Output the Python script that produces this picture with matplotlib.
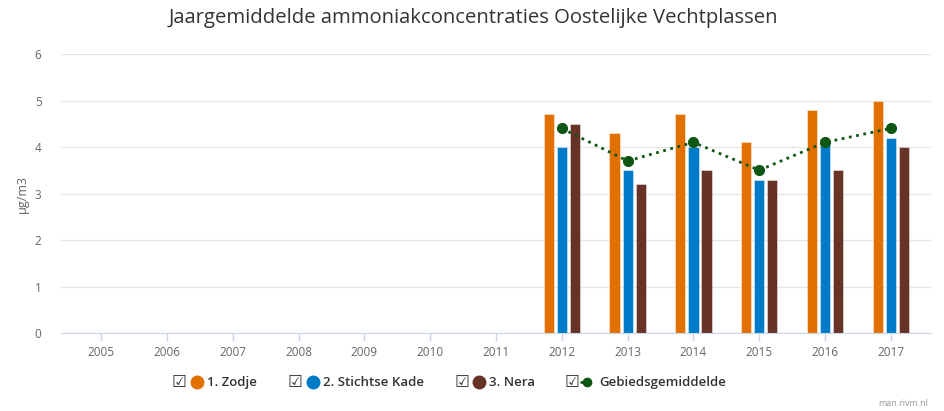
import matplotlib.pyplot as plt
import numpy as np

plt.rcParams["font.family"] = ["Open Sans", "DejaVu Sans"]

# Data
years = ["2005", "2006", "2007", "2008", "2009", "2010", "2011",
         "2012", "2013", "2014", "2015", "2016", "2017"]
zodje = [np.nan] * 7 + [4.7, 4.3, 4.7, 4.1, 4.8, 5.0]
stichtse_kade = [np.nan] * 7 + [4.0, 3.5, 4.0, 3.3, 4.1, 4.2]
nera = [np.nan] * 7 + [4.5, 3.2, 3.5, 3.3, 3.5, 4.0]
gebied = [np.nan] * 7 + [4.4, 3.7, 4.1, 3.5, 4.1, 4.4]

series_names = ["1. Zodje", "2. Stichtse Kade", "3. Nera", "Gebiedsgemiddelde"]
colors = ["#e17000", "#007bc7", "#673327", "#0d5613"]

W, H = 944, 411
fig = plt.figure(figsize=(W / 100, H / 100), dpi=100)
ax = fig.add_axes([61 / W, (H - 333) / H, 870 / W, 279 / H])

x = np.arange(len(years))
bw = 0.155
step = 0.2
for i, vals in enumerate([zodje, stichtse_kade, nera]):
    ax.bar(x + (i - 1) * step, vals, width=bw, color=colors[i],
           edgecolor=(1, 1, 1, 0.5), linewidth=0.6, zorder=2)

ax.plot(x, gebied, linestyle=":", linewidth=2, color=colors[3],
        marker="o", markersize=7, zorder=3)

# Axes styling
ax.set_xlim(-0.61, 12.61)
ax.set_ylim(0, 6)
ax.set_yticks(range(7))
ax.set_xticks(x)
ax.set_xticklabels(years)
ax.grid(axis="y", color="#e6e6e6", linewidth=1, zorder=0)
for side in ["top", "right", "left"]:
    ax.spines[side].set_visible(False)
ax.spines["bottom"].set_color("#ccd6eb")
ax.tick_params(axis="x", colors="#ccd6eb", length=6, width=1, labelcolor="#666666",
               labelsize=8.5, pad=3)
ax.tick_params(axis="y", length=0, labelcolor="#666666", labelsize=8.5, pad=14)
ax.set_ylabel("µg/m3", color="#666666", fontsize=9, labelpad=4)

fig.text(473 / W, 1 - 18 / H, "Jaargemiddelde ammoniakconcentraties Oostelijke Vechtplassen",
         ha="center", va="center", fontsize=14.6, color="#333333")

# Legend
ly = 1 - 382 / H
legend_items = [(179, 197, 207), (295, 313, 323), (462, 479, 489), (572, 587, 599)]
for i, (cx, mx, tx) in enumerate(legend_items):
    fig.text(cx / W, ly, "\u2611", ha="center", va="center", fontsize=12,
             color="#333333", family="DejaVu Sans")
    if i < 3:
        fig.lines.append(plt.Line2D([mx / W], [ly], marker="o", markersize=9,
                                    color=colors[i], transform=fig.transFigure))
    else:
        fig.lines.append(plt.Line2D([(mx - 7) / W, (mx + 7) / W], [ly, ly],
                                    linestyle=":", linewidth=2, color=colors[3],
                                    marker=None, transform=fig.transFigure))
        fig.lines.append(plt.Line2D([mx / W], [ly], marker="o", markersize=6,
                                    color=colors[3], transform=fig.transFigure))
    fig.text(tx / W, ly, series_names[i], ha="left", va="center", fontsize=9.5,
             fontweight="semibold", color="#333333")

fig.text(903 / W, 1 - 403 / H, "man.rivm.nl", ha="center", va="center",
         fontsize=6.5, color="#999999")

fig.savefig("out.png", dpi=100)
